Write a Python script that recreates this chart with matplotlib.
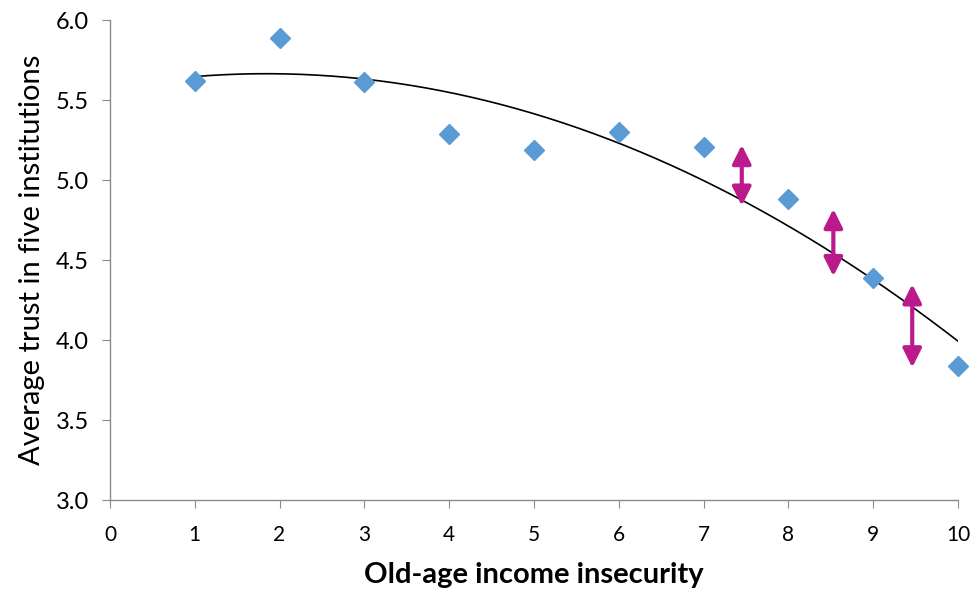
import matplotlib.pyplot as plt
import numpy as np

# insecurity level vs. average trust
insecurity = [1, 2, 3, 4, 5, 6, 7, 8, 9, 10]
trust = [5.62, 5.89, 5.61, 5.29, 5.19, 5.30, 5.21, 4.88, 4.39, 3.84]

# gap arrows between points and the trend line
arrow_x = [7.45, 8.53, 9.46]
arrow_top = [5.22, 4.82, 4.35]
arrow_bottom = [4.84, 4.40, 3.83]

x_ticks = list(range(0, 11))
y_ticks = [3.0, 3.5, 4.0, 4.5, 5.0, 5.5, 6.0]

plt.rcParams['font.family'] = ['Lato', 'DejaVu Sans']

fig = plt.figure(figsize=(9.73, 5.90), dpi=100)
ax = fig.add_axes([0.113, 0.152, 0.8716, 0.814])

# quadratic trend line, like Excel's polynomial trendline
coef = np.polyfit(insecurity, trust, 2)
xs = np.linspace(1, 10, 200)
ax.plot(xs, np.polyval(coef, xs), color='black', lw=1.2, zorder=2)

ax.plot(insecurity, trust, linestyle='none', marker='D', markersize=10,
        color='#5B9BD5', zorder=3, clip_on=False)

for x, top, bot in zip(arrow_x, arrow_top, arrow_bottom):
    ax.annotate('', xy=(x, top), xytext=(x, bot),
                arrowprops=dict(arrowstyle='<|-|>', color='#BB1A8C', lw=3,
                                mutation_scale=28, shrinkA=0, shrinkB=0),
                zorder=4)

ax.set_xlim(0, 10)
ax.set_ylim(3.0, 6.0)
ax.set_xticks(x_ticks)
ax.set_yticks(y_ticks)
ax.set_yticklabels([f'{v:.1f}' for v in y_ticks])

for side in ['top', 'right']:
    ax.spines[side].set_visible(False)
for side in ['left', 'bottom']:
    ax.spines[side].set_color('#8C8C8C')
    ax.spines[side].set_linewidth(1)
ax.tick_params(axis='both', colors='#8C8C8C', length=6, labelcolor='black')
ax.tick_params(axis='y', labelsize=17, pad=9)
ax.tick_params(axis='x', labelsize=15, pad=12)

ax.set_xlabel('Old-age income insecurity', fontsize=21, fontweight='bold', labelpad=12)
ax.set_ylabel('Average trust in five institutions', fontsize=21, labelpad=8)

fig.savefig('out.png', dpi=100)
